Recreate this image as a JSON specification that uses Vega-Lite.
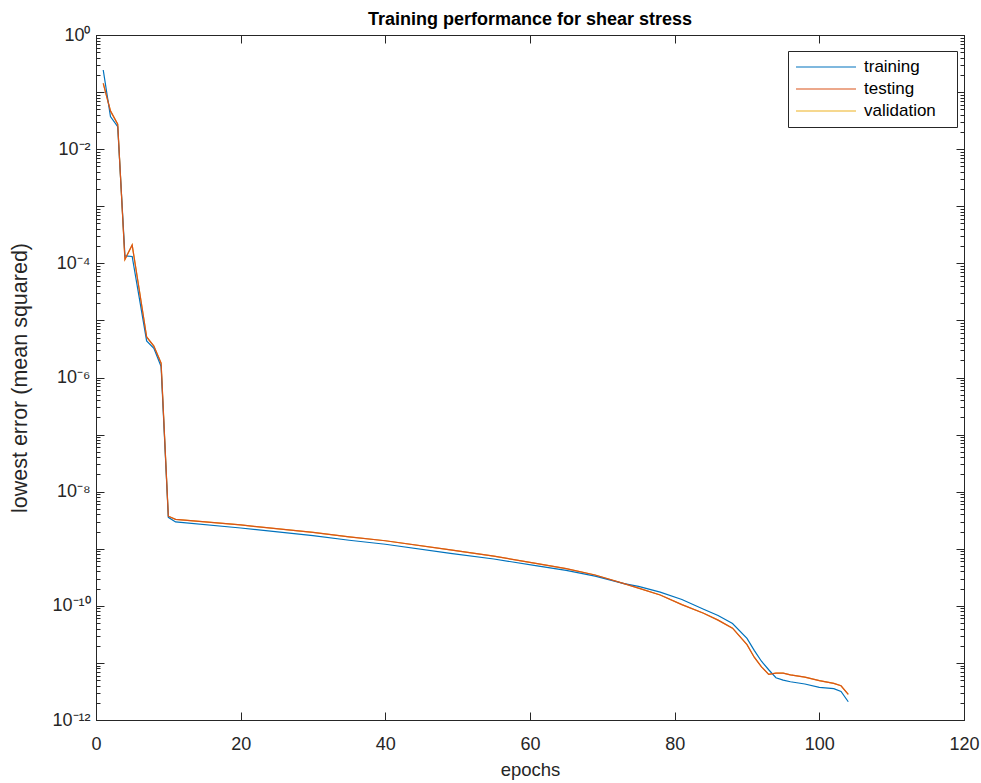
{
  "$schema": "https://vega.github.io/schema/vega-lite/v6.json",
  "autosize": "none",
  "width": 868,
  "height": 685,
  "padding": {"left": 96, "top": 35, "right": 17, "bottom": 63},
  "background": "white",
  "title": {"text": "Training performance for shear stress", "fontSize": 18, "fontWeight": "bold", "font": "Liberation Sans", "color": "#000000", "anchor": "middle", "offset": -3},
  "data": {"values": [
    {"epoch": 1, "training": 0.244, "testing": 0.142, "validation": 0.142},
    {"epoch": 2, "training": 0.0372, "testing": 0.0468, "validation": 0.0468},
    {"epoch": 3, "training": 0.0248, "testing": 0.0275, "validation": 0.0275},
    {"epoch": 4, "training": 1.35e-4, "testing": 1.17e-4, "validation": 1.17e-4},
    {"epoch": 5, "training": 1.32e-4, "testing": 2.09e-4, "validation": 2.09e-4},
    {"epoch": 6, "training": 2.40e-5, "testing": 3.31e-5, "validation": 3.31e-5},
    {"epoch": 7, "training": 4.37e-6, "testing": 5.13e-6, "validation": 5.13e-6},
    {"epoch": 8, "training": 3.24e-6, "testing": 3.55e-6, "validation": 3.55e-6},
    {"epoch": 9, "training": 1.55e-6, "testing": 1.78e-6, "validation": 1.78e-6},
    {"epoch": 10, "training": 3.55e-9, "testing": 3.72e-9, "validation": 3.72e-9},
    {"epoch": 11, "training": 2.95e-9, "testing": 3.27e-9, "validation": 3.27e-9},
    {"epoch": 20, "training": 2.31e-9, "testing": 2.61e-9, "validation": 2.61e-9},
    {"epoch": 30, "training": 1.70e-9, "testing": 1.93e-9, "validation": 1.93e-9},
    {"epoch": 35, "training": 1.41e-9, "testing": 1.62e-9, "validation": 1.62e-9},
    {"epoch": 40, "training": 1.20e-9, "testing": 1.38e-9, "validation": 1.38e-9},
    {"epoch": 49, "training": 8.32e-10, "testing": 9.55e-10, "validation": 9.55e-10},
    {"epoch": 55, "training": 6.61e-10, "testing": 7.41e-10, "validation": 7.41e-10},
    {"epoch": 61, "training": 5.01e-10, "testing": 5.50e-10, "validation": 5.50e-10},
    {"epoch": 65, "training": 4.17e-10, "testing": 4.47e-10, "validation": 4.47e-10},
    {"epoch": 69, "training": 3.31e-10, "testing": 3.47e-10, "validation": 3.47e-10},
    {"epoch": 73, "training": 2.45e-10, "testing": 2.45e-10, "validation": 2.45e-10},
    {"epoch": 75, "training": 2.19e-10, "testing": 2.04e-10, "validation": 2.04e-10},
    {"epoch": 78, "training": 1.74e-10, "testing": 1.55e-10, "validation": 1.55e-10},
    {"epoch": 81, "training": 1.29e-10, "testing": 1.05e-10, "validation": 1.05e-10},
    {"epoch": 84, "training": 8.71e-11, "testing": 7.41e-11, "validation": 7.41e-11},
    {"epoch": 86, "training": 6.76e-11, "testing": 5.62e-11, "validation": 5.62e-11},
    {"epoch": 88, "training": 4.90e-11, "testing": 4.07e-11, "validation": 4.07e-11},
    {"epoch": 90, "training": 2.69e-11, "testing": 2.09e-11, "validation": 2.09e-11},
    {"epoch": 91, "training": 1.66e-11, "testing": 1.26e-11, "validation": 1.26e-11},
    {"epoch": 92, "training": 1.07e-11, "testing": 8.51e-12, "validation": 8.51e-12},
    {"epoch": 93, "training": 7.59e-12, "testing": 6.31e-12, "validation": 6.31e-12},
    {"epoch": 94, "training": 5.50e-12, "testing": 6.61e-12, "validation": 6.61e-12},
    {"epoch": 95, "training": 5.01e-12, "testing": 6.61e-12, "validation": 6.61e-12},
    {"epoch": 96, "training": 4.68e-12, "testing": 6.17e-12, "validation": 6.17e-12},
    {"epoch": 98, "training": 4.27e-12, "testing": 5.62e-12, "validation": 5.62e-12},
    {"epoch": 100, "training": 3.72e-12, "testing": 4.90e-12, "validation": 4.90e-12},
    {"epoch": 102, "training": 3.55e-12, "testing": 4.37e-12, "validation": 4.37e-12},
    {"epoch": 103, "training": 3.16e-12, "testing": 3.98e-12, "validation": 3.98e-12},
    {"epoch": 104, "training": 2.09e-12, "testing": 2.82e-12, "validation": 2.82e-12}
  ]},
  "transform": [{"fold": ["training", "testing", "validation"], "as": ["series", "value"]}],
  "resolve": {"axis": {"x": "independent", "y": "independent"}},
  "layer": [
    {
      "transform": [{"filter": "datum.series == 'validation'"}],
      "mark": {"type": "line", "strokeWidth": 1.2},
      "encoding": {
        "x": {"field": "epoch", "type": "quantitative", "scale": {"domain": [0, 120], "nice": false},
          "axis": {"orient": "bottom", "title": "epochs", "values": [0, 20, 40, 60, 80, 100, 120], "tickSize": -8, "labelPadding": 23, "titlePadding": 7, "labelFlush": false}},
        "y": {"field": "value", "type": "quantitative", "scale": {"type": "log", "domain": [1e-12, 1], "nice": false},
          "axis": {"orient": "left", "title": "lowest error (mean squared)", "titleFontSize": 21.5, "titlePadding": 20, "labelPadding": 14, "labelFlush": false,
            "values": [1e-12,2e-12,3e-12,4e-12,5e-12,6e-12,7e-12,8e-12,9e-12,1e-11,2e-11,3e-11,4e-11,5e-11,6e-11,7e-11,8e-11,9e-11,1e-10,2e-10,3e-10,4e-10,5e-10,6e-10,7e-10,8e-10,9e-10,1e-9,2e-9,3e-9,4e-9,5e-9,6e-9,7e-9,8e-9,9e-9,1e-8,2e-8,3e-8,4e-8,5e-8,6e-8,7e-8,8e-8,9e-8,1e-7,2e-7,3e-7,4e-7,5e-7,6e-7,7e-7,8e-7,9e-7,1e-6,2e-6,3e-6,4e-6,5e-6,6e-6,7e-6,8e-6,9e-6,1e-5,2e-5,3e-5,4e-5,5e-5,6e-5,7e-5,8e-5,9e-5,1e-4,2e-4,3e-4,4e-4,5e-4,6e-4,7e-4,8e-4,9e-4,1e-3,2e-3,3e-3,4e-3,5e-3,6e-3,7e-3,8e-3,9e-3,0.01,0.02,0.03,0.04,0.05,0.06,0.07,0.08,0.09,0.1,0.2,0.3,0.4,0.5,0.6,0.7,0.8,0.9,1],
            "tickSize": {"condition": {"test": "abs(log(datum.value)/LN10 - round(log(datum.value)/LN10)) < 0.001", "value": -8}, "value": -4},
            "labelExpr": "abs(log(datum.value)/LN10 - round(log(datum.value)/LN10)) > 0.001 ? '' : round(log(datum.value)/LN10) == 0 ? '10⁰' : round(log(datum.value)/LN10) == -2 ? '10⁻²' : round(log(datum.value)/LN10) == -4 ? '10⁻⁴' : round(log(datum.value)/LN10) == -6 ? '10⁻⁶' : round(log(datum.value)/LN10) == -8 ? '10⁻⁸' : round(log(datum.value)/LN10) == -10 ? '10⁻¹⁰' : round(log(datum.value)/LN10) == -12 ? '10⁻¹²' : ''"}},
        "color": {"field": "series", "type": "nominal", "scale": {"domain": ["training", "testing", "validation"], "range": ["#0072BD", "#D95319", "#EDB120"]},
          "legend": {"orient": "none", "legendX": 692, "legendY": 16, "title": "\u2003", "titleOrient": "right", "titleFontSize": 15, "titlePadding": 14, "symbolType": "stroke", "symbolSize": 3600, "symbolStrokeWidth": 1.2, "clipHeight": 18, "labelOffset": 7, "labelFontSize": 17, "labelColor": "#000000", "strokeColor": "#262626", "fillColor": "white", "padding": 7, "rowPadding": 4}}
      }
    },
    {
      "transform": [{"filter": "datum.series == 'training'"}],
      "mark": {"type": "line", "strokeWidth": 1.2},
      "encoding": {
        "x": {"field": "epoch", "type": "quantitative", "axis": null},
        "y": {"field": "value", "type": "quantitative", "axis": null},
        "color": {"field": "series", "type": "nominal"}
      }
    },
    {
      "transform": [{"filter": "datum.series == 'testing'"}],
      "mark": {"type": "line", "strokeWidth": 1.2},
      "encoding": {
        "x": {"field": "epoch", "type": "quantitative", "axis": null},
        "y": {"field": "value", "type": "quantitative", "axis": null},
        "color": {"field": "series", "type": "nominal"}
      }
    },
    {
      "transform": [{"filter": "datum.series == 'training'"}],
      "mark": {"type": "line", "opacity": 0},
      "encoding": {
        "x": {"field": "epoch", "type": "quantitative",
          "axis": {"orient": "top", "title": null, "labels": false, "values": [0, 20, 40, 60, 80, 100, 120], "tickSize": -8}},
        "y": {"field": "value", "type": "quantitative",
          "axis": {"orient": "right", "title": null, "labels": false,
            "values": [1e-12,2e-12,3e-12,4e-12,5e-12,6e-12,7e-12,8e-12,9e-12,1e-11,2e-11,3e-11,4e-11,5e-11,6e-11,7e-11,8e-11,9e-11,1e-10,2e-10,3e-10,4e-10,5e-10,6e-10,7e-10,8e-10,9e-10,1e-9,2e-9,3e-9,4e-9,5e-9,6e-9,7e-9,8e-9,9e-9,1e-8,2e-8,3e-8,4e-8,5e-8,6e-8,7e-8,8e-8,9e-8,1e-7,2e-7,3e-7,4e-7,5e-7,6e-7,7e-7,8e-7,9e-7,1e-6,2e-6,3e-6,4e-6,5e-6,6e-6,7e-6,8e-6,9e-6,1e-5,2e-5,3e-5,4e-5,5e-5,6e-5,7e-5,8e-5,9e-5,1e-4,2e-4,3e-4,4e-4,5e-4,6e-4,7e-4,8e-4,9e-4,1e-3,2e-3,3e-3,4e-3,5e-3,6e-3,7e-3,8e-3,9e-3,0.01,0.02,0.03,0.04,0.05,0.06,0.07,0.08,0.09,0.1,0.2,0.3,0.4,0.5,0.6,0.7,0.8,0.9,1],
            "tickSize": {"condition": {"test": "abs(log(datum.value)/LN10 - round(log(datum.value)/LN10)) < 0.001", "value": -8}, "value": -4}}}
      }
    }
  ],
  "config": {
    "font": "Liberation Sans",
    "view": {"stroke": "#262626", "strokeWidth": 1},
    "legend": {"labelFontSize": 17, "labelFont": "Liberation Sans"},
    "axis": {"grid": false, "domainColor": "#262626", "tickColor": "#262626", "labelColor": "#262626", "titleColor": "#262626", "labelFontSize": 18, "titleFontSize": 18.5, "titleFontWeight": "normal", "labelFont": "Liberation Sans", "titleFont": "Liberation Sans", "domainWidth": 1, "tickWidth": 1}
  }
}
